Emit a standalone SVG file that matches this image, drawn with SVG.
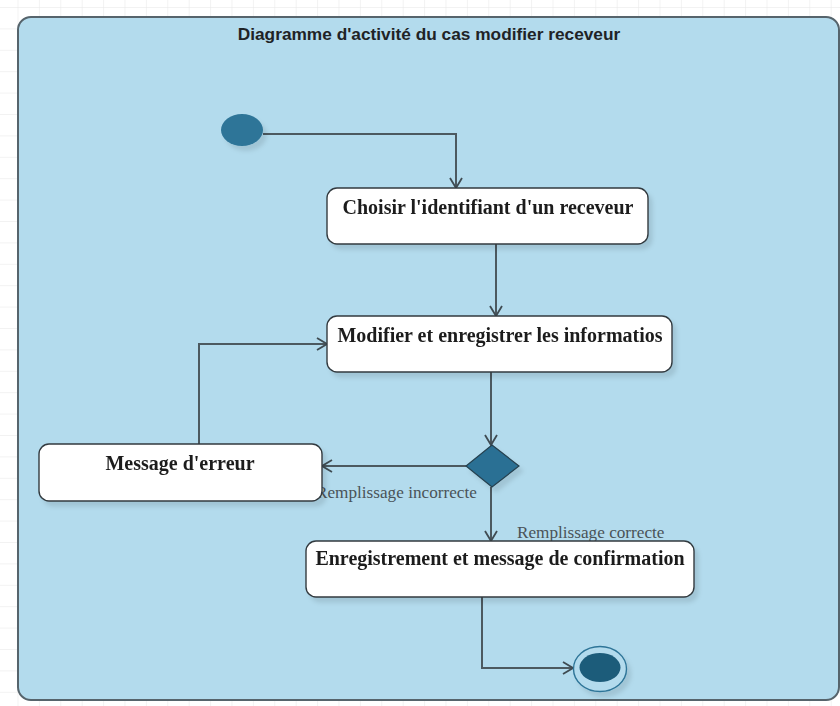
<svg xmlns="http://www.w3.org/2000/svg" width="840" height="706" viewBox="0 0 840 706">
  <defs>
    <pattern id="grid" patternUnits="userSpaceOnUse" x="17.5" y="7" width="21.4" height="21.4">
      <path d="M 0 0 V 21.4 M 0 0 H 21.4" fill="none" stroke="#e6e6e6" stroke-width="1"/>
    </pattern>
    <filter id="shadow" x="-20%" y="-20%" width="150%" height="160%">
      <feDropShadow dx="4" dy="5" stdDeviation="2" flood-color="#000" flood-opacity="0.1"/>
    </filter>
    <marker id="arrow" viewBox="0 0 12 14" refX="11" refY="7" markerWidth="12" markerHeight="14" markerUnits="userSpaceOnUse" orient="auto">
      <path d="M 1 1 L 11 7 L 1 13" fill="none" stroke="#3f4b52" stroke-width="1.8"/>
    </marker>
    <style>
      .node { fill: #ffffff; stroke: #333a3f; stroke-width: 1.4; }
      .label { font-family: "Liberation Serif", "Times New Roman", serif; font-weight: bold; font-size: 20px; fill: #1e1e1e; text-anchor: middle; }
      .guard { font-family: "Liberation Serif", "Times New Roman", serif; font-size: 17.2px; fill: #4a5358; }
      .edge { fill: none; stroke: #4c5960; stroke-width: 2; marker-end: url(#arrow); }
    </style>
  </defs>

  <!-- canvas grid -->
  <rect x="0" y="0" width="840" height="706" fill="#ffffff"/>
  <rect x="0" y="0" width="840" height="706" fill="url(#grid)"/>

  <!-- activity frame -->
  <g id="frame">
    <rect x="18" y="17" width="821" height="683" rx="13" ry="13" fill="#b3dbed" stroke="#56646c" stroke-width="2"/>
    <text x="429" y="40" font-family="Liberation Sans, Arial, sans-serif" font-weight="bold" font-size="17.3px" fill="#1f2326" text-anchor="middle">Diagramme d'activité du cas modifier receveur</text>
  </g>

  <!-- connectors -->
  <g id="edges">
    <path class="edge" d="M 263 134 H 456 V 188"/>
    <path class="edge" d="M 496 244 V 316"/>
    <path class="edge" d="M 491 372 V 445"/>
    <path class="edge" d="M 467 466 H 322"/>
    <path class="edge" d="M 491 487 V 541"/>
    <path class="edge" d="M 199 444 V 344 H 327"/>
    <path class="edge" d="M 482 597 V 668 H 573"/>
    <text class="guard" x="316" y="498">Remplissage incorrecte</text>
    <text class="guard" x="517" y="538">Remplissage correcte</text>
  </g>

  <!-- initial node -->
  <g id="start" filter="url(#shadow)">
    <ellipse cx="242" cy="130" rx="21" ry="16" fill="#2e7598"/>
  </g>

  <g id="choisir" filter="url(#shadow)">
    <rect class="node" x="327" y="188" width="321" height="56" rx="10" ry="10"/>
    <text class="label" x="488" y="214">Choisir l'identifiant d'un receveur</text>
  </g>

  <g id="modifier" filter="url(#shadow)">
    <rect class="node" x="327" y="316" width="345" height="56" rx="10" ry="10"/>
    <text class="label" x="500" y="342">Modifier et enregistrer les informatios</text>
  </g>

  <g id="decision" filter="url(#shadow)">
    <polygon points="492,445 519,466 492,487 466,466" fill="#2a6f94" stroke="#25414f" stroke-width="1.2"/>
  </g>

  <g id="erreur" filter="url(#shadow)">
    <rect class="node" x="39" y="444" width="283" height="57" rx="10" ry="10"/>
    <text class="label" x="180" y="470">Message d'erreur</text>
  </g>

  <g id="confirmation" filter="url(#shadow)">
    <rect class="node" x="306" y="541" width="388" height="56" rx="10" ry="10"/>
    <text class="label" x="500" y="565">Enregistrement et message de confirmation</text>
  </g>

  <!-- final node -->
  <g id="end" filter="url(#shadow)">
    <ellipse cx="600" cy="669" rx="26.5" ry="22.5" fill="#b3dbed" stroke="#2e7598" stroke-width="1.4"/>
    <ellipse cx="600" cy="667.5" rx="20.5" ry="14.5" fill="#1e5b7a"/>
  </g>
</svg>
